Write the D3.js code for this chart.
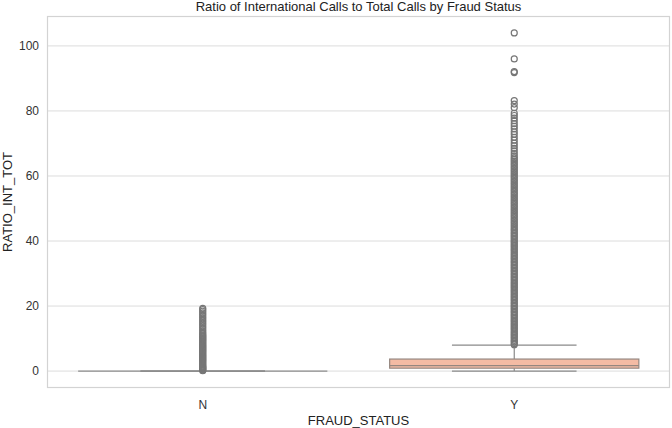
<!DOCTYPE html>
<html lang="en">
<head>
    <meta charset="UTF-8">
    <title>Ratio of International Calls to Total Calls by Fraud Status</title>
    <script src="https://cdn.jsdelivr.net/npm/d3@7"></script>
    <style>
        body, html {
            margin: 0;
            padding: 0;
            background: #fff;
        }
        svg {
            display: block;
            font-family: "Liberation Sans", Arial, sans-serif;
        }
    </style>
</head>
<body>
    <svg id="mainsvg"></svg>
    <script>
        // categories and box statistics
        const categories = ["N", "Y"];
        const q1 = [0, 0.9];
        const median = [0, 1.7];
        const q3 = [0, 3.7];
        const whiskerLow = [0, 0];
        const whiskerHigh = [0, 8.0];
        const boxColors = ["#9a9a9a", "#f4bba4"];

        // outliers (dense columns, estimated)
        const fliersN = [0.1, 0.3, 0.5, 0.7, 0.9, 1.1, 1.3, 1.5, 1.8, 2.1, 2.4, 2.7, 3.0, 3.3, 3.6,
            3.9, 4.2, 4.5, 4.8, 5.1, 5.4, 5.7, 6.0, 6.3, 6.6, 6.9, 7.2, 7.5, 7.8, 8.1, 8.4, 8.7, 9.0,
            9.3, 9.6, 9.9, 10.2, 10.5, 10.8, 11.1, 11.5, 11.9, 12.4, 12.9, 13.4, 13.9, 14.4, 14.9,
            15.4, 15.9, 16.4, 16.9, 17.4, 17.9, 18.4, 18.9, 19.3];
        const fliersY = [8.1, 8.5, 9.0, 9.4, 9.9, 10.3, 10.8, 11.2, 11.7, 12.1, 12.6, 13.0, 13.5,
            13.9, 14.4, 14.8, 15.3, 15.7, 16.2, 16.6, 17.1, 17.5, 18.0, 18.4, 18.9, 19.3, 19.8, 20.2,
            20.7, 21.1, 21.6, 22.0, 22.5, 22.9, 23.4, 23.8, 24.3, 24.7, 25.2, 25.6, 26.1, 26.5, 27.0,
            27.4, 27.9, 28.3, 28.8, 29.2, 29.7, 30.1, 30.6, 31.0, 31.5, 31.9, 32.4, 32.8, 33.3, 33.7,
            34.2, 34.6, 35.1, 35.5, 36.0, 36.4, 36.9, 37.3, 37.8, 38.2, 38.7, 39.1, 39.6, 40.0, 40.5,
            40.9, 41.4, 41.8, 42.3, 42.7, 43.2, 43.6, 44.1, 44.6, 45.1, 45.6, 46.1, 46.6, 47.1, 47.6,
            48.1, 48.6, 49.1, 49.6, 50.1, 50.6, 51.1, 51.6, 52.1, 52.6, 53.1, 53.6, 54.1, 54.6, 55.1,
            55.6, 56.1, 56.6, 57.1, 57.6, 58.1, 58.6, 59.1, 59.6, 60.1, 60.6, 61.1, 61.6, 62.1, 62.6,
            63.1, 63.6, 64.1, 64.6, 65.1, 65.6, 66.2, 66.9, 67.7, 68.5, 69.3, 70.1, 71.0, 71.9, 72.8,
            73.6, 74.5, 75.3, 76.1, 77.0, 77.8, 78.6, 79.3, 81.0, 82.1, 83.2, 91.8, 92.1, 96.0, 104.0];
        const fliers = [fliersN, fliersY];

        const yTicks = [0, 20, 40, 60, 80, 100];

        const width = 672, height = 428;
        const margin = {top: 16, right: 2, bottom: 40, left: 47};

        const svg = d3.select("#mainsvg")
            .attr("width", width)
            .attr("height", height);

        const x = d3.scaleBand()
            .domain(categories)
            .range([margin.left, width - margin.right])
            .paddingInner(0)
            .paddingOuter(0);

        const allVals = fliersY.concat(fliersN, whiskerLow);
        const lo = d3.min(allVals), hi = d3.max(allVals);
        const pad = (hi - lo) * 0.05;
        const y = d3.scaleLinear()
            .domain([lo - pad, hi + pad])
            .range([height - margin.bottom, margin.top]);

        // grid
        svg.append("g")
            .selectAll("line")
            .data(yTicks)
            .join("line")
            .attr("x1", margin.left)
            .attr("x2", width - margin.right)
            .attr("y1", d => y(d))
            .attr("y2", d => y(d))
            .attr("stroke", "#dcdcdc")
            .attr("stroke-width", 1);

        // y axis labels
        const yAxis = svg.append("g")
            .attr("transform", `translate(${margin.left},0)`)
            .call(d3.axisLeft(y).tickValues(yTicks).tickSize(0).tickPadding(8));
        yAxis.select(".domain").remove();
        yAxis.selectAll("text")
            .attr("font-size", 12)
            .attr("font-family", "Liberation Sans, Arial, sans-serif")
            .attr("fill", "#333");

        // x axis labels
        const xAxis = svg.append("g")
            .attr("transform", `translate(0,${height - margin.bottom})`)
            .call(d3.axisBottom(x).tickSize(0).tickPadding(12));
        xAxis.select(".domain").remove();
        xAxis.selectAll("text")
            .attr("font-size", 12)
            .attr("font-family", "Liberation Sans, Arial, sans-serif")
            .attr("fill", "#333");

        // boxes
        const bw = x.bandwidth() * 0.8;
        const groups = svg.append("g")
            .selectAll("g")
            .data(categories)
            .join("g");

        const cx = d => x(d) + x.bandwidth() / 2;
        const wiskColor = "#8a8a8a";

        // whisker stems
        groups.append("line")
            .attr("x1", cx).attr("x2", cx)
            .attr("y1", (d, i) => y(q3[i])).attr("y2", (d, i) => y(whiskerHigh[i]))
            .attr("stroke", wiskColor).attr("stroke-width", 1.2);
        groups.append("line")
            .attr("x1", cx).attr("x2", cx)
            .attr("y1", (d, i) => y(q1[i])).attr("y2", (d, i) => y(whiskerLow[i]))
            .attr("stroke", wiskColor).attr("stroke-width", 1.2);

        // caps
        [whiskerHigh, whiskerLow].forEach(arr => {
            groups.append("line")
                .attr("x1", d => cx(d) - bw / 4).attr("x2", d => cx(d) + bw / 4)
                .attr("y1", (d, i) => y(arr[i])).attr("y2", (d, i) => y(arr[i]))
                .attr("stroke", wiskColor).attr("stroke-width", 1.2);
        });

        groups.append("rect")
            .attr("x", d => cx(d) - bw / 2)
            .attr("width", bw)
            .attr("y", (d, i) => y(q3[i]))
            .attr("height", (d, i) => y(q1[i]) - y(q3[i]))
            .attr("fill", (d, i) => boxColors[i])
            .attr("stroke", (d, i) => i === 0 ? "#8c8c8c" : "#958780")
            .attr("stroke-width", 1.2);

        groups.append("line")
            .attr("x1", d => cx(d) - bw / 2).attr("x2", d => cx(d) + bw / 2)
            .attr("y1", (d, i) => y(median[i])).attr("y2", (d, i) => y(median[i]))
            .attr("stroke", (d, i) => i === 0 ? "#8c8c8c" : "#958780")
            .attr("stroke-width", 1.2);

        // fliers
        groups.each(function (d, i) {
            d3.select(this).append("g")
                .selectAll("circle")
                .data(fliers[i])
                .join("circle")
                .attr("cx", cx(d))
                .attr("cy", v => y(v))
                .attr("r", 3)
                .attr("fill", "none")
                .attr("stroke", "#767676")
                .attr("stroke-width", 1.2);
        });

        // frame
        svg.append("rect")
            .attr("x", margin.left + 0.5)
            .attr("y", margin.top + 0.5)
            .attr("width", width - margin.left - margin.right - 1)
            .attr("height", height - margin.top - margin.bottom - 1)
            .attr("fill", "none")
            .attr("stroke", "#d3d3d3")
            .attr("stroke-width", 1.2);

        // title and labels
        svg.append("text")
            .attr("x", (margin.left + width - margin.right) / 2)
            .attr("y", 11)
            .attr("text-anchor", "middle")
            .attr("font-size", 13)
            .attr("fill", "#222")
            .text("Ratio of International Calls to Total Calls by Fraud Status");

        svg.append("text")
            .attr("x", (margin.left + width - margin.right) / 2)
            .attr("y", 425)
            .attr("text-anchor", "middle")
            .attr("font-size", 13)
            .attr("fill", "#222")
            .text("FRAUD_STATUS");

        svg.append("text")
            .attr("transform", `translate(12,${(margin.top + height - margin.bottom) / 2}) rotate(-90)`)
            .attr("text-anchor", "middle")
            .attr("font-size", 13)
            .attr("fill", "#222")
            .text("RATIO_INT_TOT");
    </script>
</body>
</html>
